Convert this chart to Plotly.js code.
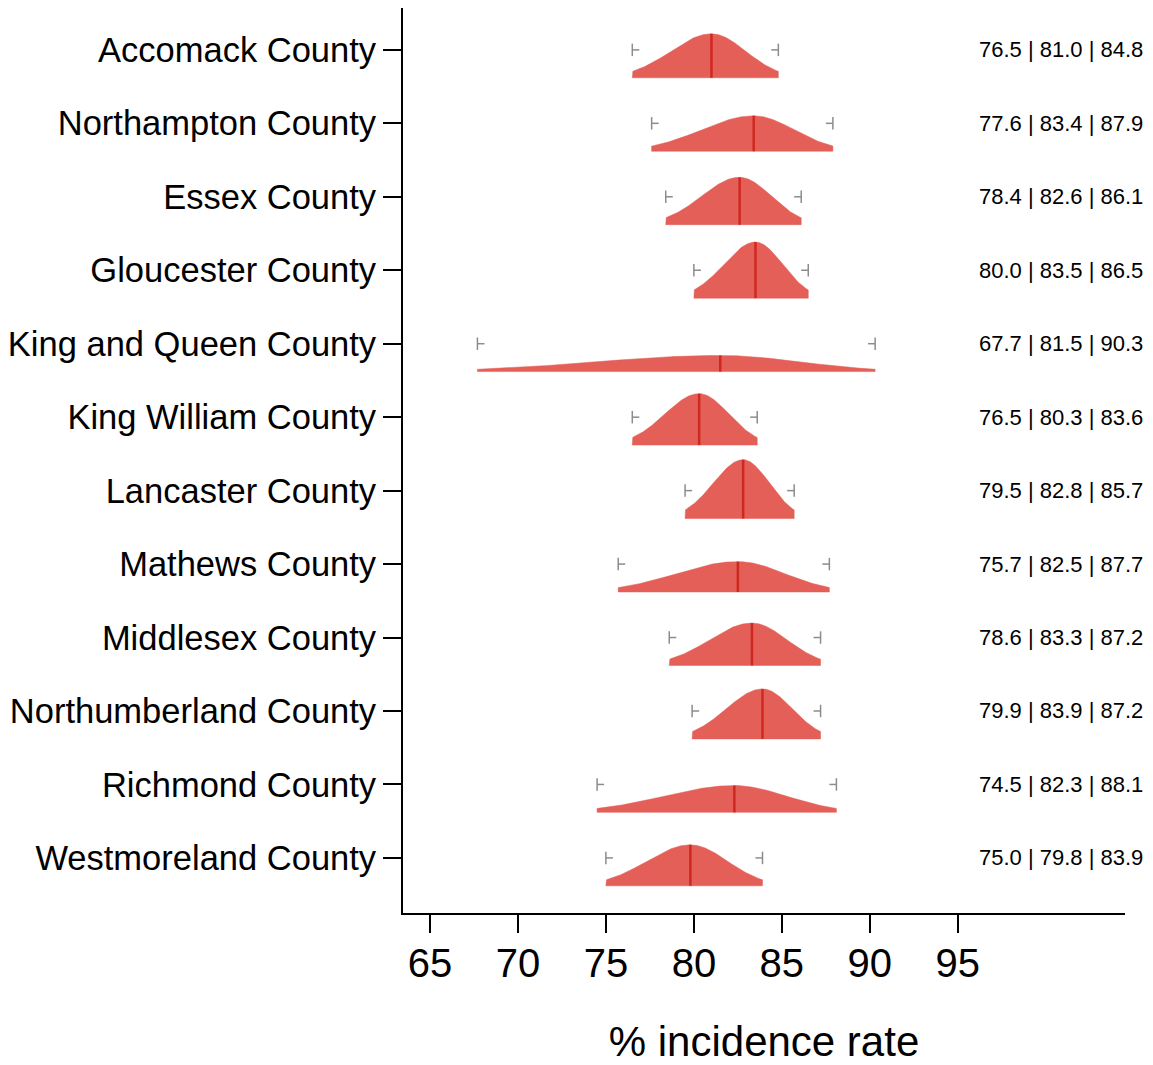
<!DOCTYPE html>
<html>
<head>
<meta charset="utf-8">
<script src="https://cdn.plot.ly/plotly-3.0.1.min.js"></script>
<style>html,body{margin:0;padding:0;background:#fff;}</style>
</head>
<body>
<div id="chart" style="width:1153px;height:1065px;"></div>
<script>
const counties = ["Accomack County","Northampton County","Essex County","Gloucester County","King and Queen County","King William County","Lancaster County","Mathews County","Middlesex County","Northumberland County","Richmond County","Westmoreland County"];
const lowVals  = [76.5, 77.6, 78.4, 80.0, 67.7, 76.5, 79.5, 75.7, 78.6, 79.9, 74.5, 75.0];
const medVals  = [81.0, 83.4, 82.6, 83.5, 81.5, 80.3, 82.8, 82.5, 83.3, 83.9, 82.3, 79.8];
const highVals = [84.8, 87.9, 86.1, 86.5, 90.3, 83.6, 85.7, 87.7, 87.2, 87.2, 88.1, 83.9];
const xTicks = [65, 70, 75, 80, 85, 90, 95];

const fillColor = "#E35F57";
const medColor = "#D0281F";
const whiskColor = "#8C8C8C";
const baseOff = 0.38;     // baseline offset below category line (y units)
const areaK = 4.97;       // height scale: peak = areaK/(high-low)

const traces = [];
counties.forEach((c, i) => {
  const lo = lowVals[i], md = medVals[i], hi = highVals[i];
  const sL = (md - lo) / 1.96, sR = (hi - md) / 1.96;
  const H = areaK / (hi - lo);
  const base = i + baseOff;
  const xs = [lo], ys = [base];
  const n = 240;
  for (let k = 0; k <= n; k++) {
    const x = lo + (hi - lo) * k / n;
    const s = x < md ? sL : sR;
    const h = H * Math.exp(-0.5 * Math.pow((x - md) / s, 2));
    xs.push(x); ys.push(base - h);
  }
  xs.push(hi); ys.push(base); xs.push(lo); ys.push(base);
  traces.push({x: xs, y: ys, type: "scatter", mode: "lines", fill: "toself",
    fillcolor: fillColor, line: {color: fillColor, width: 0.5}, hoverinfo: "skip", showlegend: false});
  traces.push({x: [md, md], y: [base, base - H], type: "scatter", mode: "lines",
    line: {color: medColor, width: 2.5}, hoverinfo: "skip", showlegend: false});
  const bh = 0.085, stub = 0.4;
  traces.push({x: [lo, lo, null, lo, lo + stub, null, hi, hi, null, hi, hi - stub],
    y: [i - bh, i + bh, null, i, i, null, i - bh, i + bh, null, i, i],
    type: "scatter", mode: "lines", line: {color: whiskColor, width: 1.5},
    hoverinfo: "skip", showlegend: false});
});

const annotations = counties.map((c, i) => ({
  xref: "paper", yref: "y", x: 1.028, y: i, xanchor: "right", yanchor: "middle",
  text: lowVals[i].toFixed(1) + " | " + medVals[i].toFixed(1) + " | " + highVals[i].toFixed(1),
  showarrow: false, font: {size: 22, color: "#000", family: "Liberation Sans, Arial, sans-serif"}
}));

const layout = {
  width: 1153, height: 1065,
  margin: {l: 403, r: 28, t: 8, b: 152},
  paper_bgcolor: "#fff", plot_bgcolor: "#fff",
  font: {family: "Liberation Sans, Arial, sans-serif", color: "#000"},
  showlegend: false,
  xaxis: {
    range: [63.47, 104.5], tickvals: xTicks, ticktext: xTicks.map(String),
    ticks: "outside", ticklen: 18, tickwidth: 2, tickcolor: "#000",
    showline: true, linewidth: 2, linecolor: "#000", showgrid: false, zeroline: false,
    tickfont: {size: 40, color: "#000"}, ticklabelstandoff: -4,
    title: {text: "% incidence rate", font: {size: 42, color: "#000"}, standoff: 44},
    automargin: false
  },
  yaxis: {
    range: [11.75, -0.57], tickvals: counties.map((c, i) => i), ticktext: counties,
    ticks: "outside", ticklen: 18, tickwidth: 2, tickcolor: "#000",
    showline: true, linewidth: 2, linecolor: "#000", showgrid: false, zeroline: false,
    tickfont: {size: 34.5, color: "#000"}, automargin: false
  },
  annotations: annotations
};

Plotly.newPlot("chart", traces, layout, {displayModeBar: false, staticPlot: true});
</script>
</body>
</html>
